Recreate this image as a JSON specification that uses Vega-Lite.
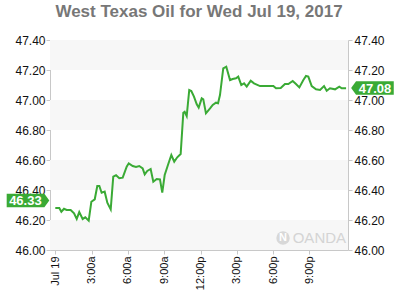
{
  "$schema": "https://vega.github.io/schema/vega-lite/v6.json",
  "width": 298,
  "height": 210,
  "autosize": {"type": "none"},
  "padding": {"left": 50, "top": 40, "right": 52, "bottom": 50},
  "background": "white",
  "config": {
    "view": {"stroke": null},
    "font": "Liberation Sans",
    "axis": {
      "domainColor": "#c8c8c8",
      "tickColor": "#c8c8c8",
      "labelColor": "#111111",
      "labelFont": "Liberation Sans",
      "labelFontSize": 12,
      "grid": false,
      "tickSize": 4,
      "title": null
    }
  },
  "title": {
    "text": "West Texas Oil for Wed Jul 19, 2017",
    "fontSize": 17,
    "fontWeight": "bold",
    "color": "#777777",
    "font": "Liberation Sans",
    "anchor": "middle",
    "frame": "group",
    "baseline": "bottom",
    "offset": 19,
    "dy": 23
  },
  "datasets": {
    "bands": [
      {"lo": 47.2, "hi": 47.4},
      {"lo": 46.8, "hi": 47.0},
      {"lo": 46.4, "hi": 46.6},
      {"lo": 46.0, "hi": 46.2}
    ],
    "prices": [
      {"hour": 0.00, "price": 46.280},
      {"hour": 0.33, "price": 46.280},
      {"hour": 0.50, "price": 46.255},
      {"hour": 0.72, "price": 46.275},
      {"hour": 0.94, "price": 46.267},
      {"hour": 1.27, "price": 46.267},
      {"hour": 1.55, "price": 46.245},
      {"hour": 1.77, "price": 46.207},
      {"hour": 1.98, "price": 46.253},
      {"hour": 2.26, "price": 46.207},
      {"hour": 2.48, "price": 46.218},
      {"hour": 2.76, "price": 46.196},
      {"hour": 2.98, "price": 46.322},
      {"hour": 3.26, "price": 46.338},
      {"hour": 3.47, "price": 46.427},
      {"hour": 3.64, "price": 46.427},
      {"hour": 3.83, "price": 46.382},
      {"hour": 4.08, "price": 46.389},
      {"hour": 4.30, "price": 46.315},
      {"hour": 4.58, "price": 46.271},
      {"hour": 4.79, "price": 46.489},
      {"hour": 5.02, "price": 46.498},
      {"hour": 5.29, "price": 46.478},
      {"hour": 5.57, "price": 46.482},
      {"hour": 5.90, "price": 46.556},
      {"hour": 6.07, "price": 46.578},
      {"hour": 6.40, "price": 46.560},
      {"hour": 6.67, "price": 46.553},
      {"hour": 6.94, "price": 46.560},
      {"hour": 7.22, "price": 46.544},
      {"hour": 7.39, "price": 46.504},
      {"hour": 7.60, "price": 46.527},
      {"hour": 7.88, "price": 46.540},
      {"hour": 8.10, "price": 46.455},
      {"hour": 8.38, "price": 46.473},
      {"hour": 8.65, "price": 46.471},
      {"hour": 8.84, "price": 46.382},
      {"hour": 9.04, "price": 46.500},
      {"hour": 9.31, "price": 46.567},
      {"hour": 9.59, "price": 46.633},
      {"hour": 9.83, "price": 46.589},
      {"hour": 10.08, "price": 46.618},
      {"hour": 10.36, "price": 46.640},
      {"hour": 10.58, "price": 46.915},
      {"hour": 10.69, "price": 46.922},
      {"hour": 10.86, "price": 46.893},
      {"hour": 11.07, "price": 47.067},
      {"hour": 11.24, "price": 47.060},
      {"hour": 11.46, "price": 47.022},
      {"hour": 11.69, "price": 46.971},
      {"hour": 11.85, "price": 46.949},
      {"hour": 12.10, "price": 47.011},
      {"hour": 12.23, "price": 47.004},
      {"hour": 12.45, "price": 46.911},
      {"hour": 12.79, "price": 46.944},
      {"hour": 13.01, "price": 46.967},
      {"hour": 13.28, "price": 46.982},
      {"hour": 13.45, "price": 46.978},
      {"hour": 13.61, "price": 47.033},
      {"hour": 13.88, "price": 47.211},
      {"hour": 14.13, "price": 47.222},
      {"hour": 14.44, "price": 47.133},
      {"hour": 14.66, "price": 47.140},
      {"hour": 14.93, "price": 47.145},
      {"hour": 15.12, "price": 47.156},
      {"hour": 15.37, "price": 47.100},
      {"hour": 15.60, "price": 47.111},
      {"hour": 15.82, "price": 47.089},
      {"hour": 16.15, "price": 47.129},
      {"hour": 16.42, "price": 47.111},
      {"hour": 16.92, "price": 47.093},
      {"hour": 18.02, "price": 47.093},
      {"hour": 18.24, "price": 47.078},
      {"hour": 18.63, "price": 47.080},
      {"hour": 18.98, "price": 47.107},
      {"hour": 19.26, "price": 47.107},
      {"hour": 19.62, "price": 47.127},
      {"hour": 19.89, "price": 47.107},
      {"hour": 20.17, "price": 47.084},
      {"hour": 20.50, "price": 47.133},
      {"hour": 20.72, "price": 47.160},
      {"hour": 20.91, "price": 47.156},
      {"hour": 21.19, "price": 47.093},
      {"hour": 21.55, "price": 47.071},
      {"hour": 21.88, "price": 47.067},
      {"hour": 22.21, "price": 47.093},
      {"hour": 22.43, "price": 47.062},
      {"hour": 22.70, "price": 47.078},
      {"hour": 23.12, "price": 47.071},
      {"hour": 23.47, "price": 47.089},
      {"hour": 23.67, "price": 47.078},
      {"hour": 24.03, "price": 47.078}
    ],
    "badges": [
      {"side": "left", "hour": -2.256, "price": 46.33, "label": "46.33"},
      {"side": "right", "hour": 26.21, "price": 47.08, "label": "47.08"}
    ],
    "mark": [
      {"hour": 19.62, "price": 46.08, "label": "OANDA", "logo": 18.82}
    ]
  },
  "resolve": {"axis": {"y": "independent"}},
  "layer": [
    {
      "data": {"name": "bands"},
      "mark": {"type": "rect", "fill": "#f7f7f7"},
      "encoding": {
        "y": {
          "field": "lo", "type": "quantitative",
          "scale": {"domain": [46, 47.4], "nice": false, "zero": false},
          "axis": {"orient": "left", "values": [46, 46.2, 46.4, 46.6, 46.8, 47, 47.2, 47.4], "format": ".2f", "labelPadding": 1}
        },
        "y2": {"field": "hi"}
      }
    },
    {
      "data": {"name": "prices"},
      "mark": {"type": "line", "color": "#3aaa35", "strokeWidth": 2},
      "encoding": {
        "x": {
          "field": "hour", "type": "quantitative",
          "scale": {"domain": [-0.438, 24.19], "nice": false, "zero": false},
          "axis": {
            "values": [0, 3, 6, 9, 12, 15, 18, 21],
            "labelExpr": "datum.value == 0 ? 'Jul 19' : ((datum.value % 12 == 0 ? 12 : datum.value % 12) + ':00' + (datum.value < 12 ? 'a' : 'p'))",
            "labelAngle": 270,
            "labelFontSize": 11,
            "labelPadding": 2,
            "labelFlush": false
          }
        },
        "y": {
          "field": "price", "type": "quantitative",
          "axis": {"orient": "right", "values": [46, 46.2, 46.4, 46.6, 46.8, 47, 47.2, 47.4], "format": ".2f", "labelPadding": 2}
        }
      }
    },
    {
      "data": {"name": "mark"},
      "layer": [
        {
          "mark": {"type": "point", "shape": "circle", "filled": true, "color": "#d8d8d8", "opacity": 1, "size": 180},
          "encoding": {
            "x": {"field": "logo", "type": "quantitative"},
            "y": {"field": "price", "type": "quantitative", "axis": null}
          }
        },
        {
          "mark": {"type": "text", "text": "N", "color": "white", "fontSize": 11, "fontWeight": "bold", "baseline": "middle", "align": "center"},
          "encoding": {
            "x": {"field": "logo", "type": "quantitative"},
            "y": {"field": "price", "type": "quantitative", "axis": null}
          }
        },
        {
          "mark": {"type": "text", "color": "#d4d4d4", "fontSize": 15, "align": "left", "baseline": "middle"},
          "encoding": {
            "x": {"field": "hour", "type": "quantitative"},
            "y": {"field": "price", "type": "quantitative", "axis": null},
            "text": {"field": "label"}
          }
        }
      ]
    },
    {
      "data": {"name": "badges"},
      "transform": [{"filter": "datum.side == 'left'"}],
      "layer": [
        {
          "mark": {"type": "point", "shape": "M-1,-0.317L0.77,-0.317L1,0L0.77,0.317L-1,0.317Z", "filled": true, "color": "#3aaa35", "opacity": 1, "size": 1815, "strokeWidth": 0},
          "encoding": {
            "x": {"field": "hour", "type": "quantitative"},
            "y": {"field": "price", "type": "quantitative", "axis": null}
          }
        },
        {
          "mark": {"type": "text", "color": "white", "fontSize": 13, "fontWeight": "bold", "align": "center", "baseline": "middle", "dx": -2.6, "dy": 0.5},
          "encoding": {
            "x": {"field": "hour", "type": "quantitative"},
            "y": {"field": "price", "type": "quantitative", "axis": null},
            "text": {"field": "label"}
          }
        }
      ]
    },
    {
      "data": {"name": "badges"},
      "transform": [{"filter": "datum.side == 'right'"}],
      "layer": [
        {
          "mark": {"type": "point", "shape": "M1,-0.317L-0.77,-0.317L-1,0L-0.77,0.317L1,0.317Z", "filled": true, "color": "#3aaa35", "opacity": 1, "size": 1815, "strokeWidth": 0},
          "encoding": {
            "x": {"field": "hour", "type": "quantitative"},
            "y": {"field": "price", "type": "quantitative", "axis": null}
          }
        },
        {
          "mark": {"type": "text", "color": "white", "fontSize": 13, "fontWeight": "bold", "align": "center", "baseline": "middle", "dx": 2.5, "dy": 0.5},
          "encoding": {
            "x": {"field": "hour", "type": "quantitative"},
            "y": {"field": "price", "type": "quantitative", "axis": null},
            "text": {"field": "label"}
          }
        }
      ]
    }
  ]
}
